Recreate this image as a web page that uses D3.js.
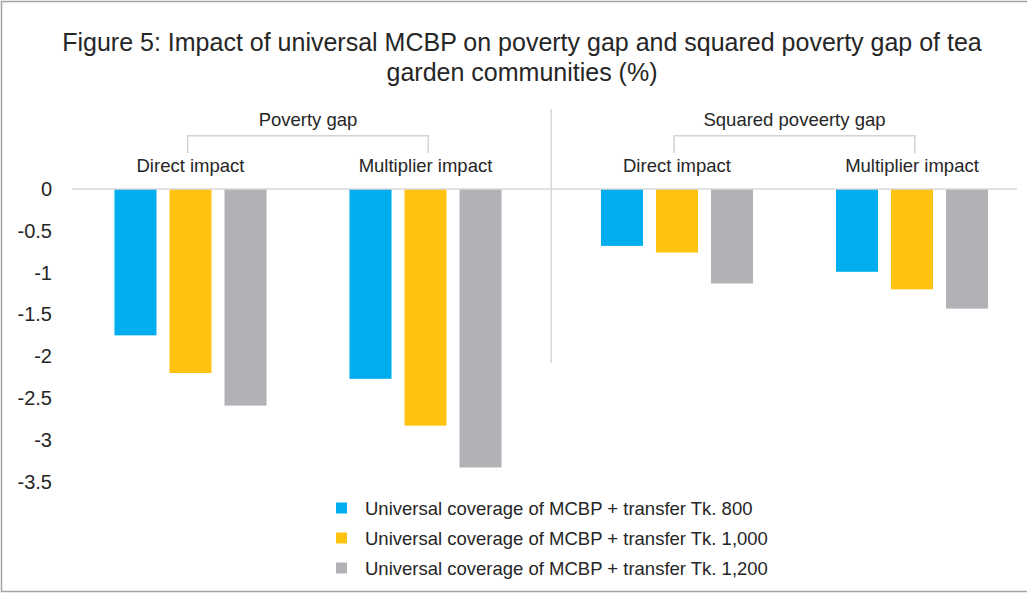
<!DOCTYPE html>
<html>
<head>
<meta charset="utf-8">
<script src="https://cdn.jsdelivr.net/npm/d3@7"></script>
<style>
  html, body { margin: 0; padding: 0; background: #fff; }
  svg { display: block; font-family: "Liberation Sans", Arial, sans-serif; }
</style>
</head>
<body>
<svg id="chart" width="1027" height="593"></svg>
<script>
// Category structure
const groups = ["Poverty gap", "Squared poveerty gap"];
const impacts = ["Direct impact", "Multiplier impact"];

// Series (one value per group/impact pair, in order)
const seriesNames = [
  "Universal coverage of MCBP + transfer Tk. 800",
  "Universal coverage of MCBP + transfer Tk. 1,000",
  "Universal coverage of MCBP + transfer Tk. 1,200"
];
const values800  = [-1.75, -2.27, -0.68, -0.99];
const values1000 = [-2.20, -2.83, -0.76, -1.20];
const values1200 = [-2.59, -3.33, -1.13, -1.43];
const seriesColors = ["#00AEEF", "#FEC311", "#B1B2B5"];

// Value axis ticks
const yTicks = [0, -0.5, -1, -1.5, -2, -2.5, -3, -3.5];

const titleLines = [
  "Figure 5: Impact of universal MCBP on poverty gap and squared poverty gap of tea",
  "garden communities (%)"
];

const seriesValues = [values800, values1000, values1200];

const svg = d3.select("#chart");
const textColor = "#262626";

// Frame (left, top and bottom edges)
svg.append("path")
  .attr("d", "M1028,1.5 H1.5 V591.5 H1028")
  .attr("fill", "none").attr("stroke", "#a3a3a3").attr("stroke-width", 1.5);

// Title
svg.append("text")
  .attr("x", 522).attr("y", 51)
  .attr("text-anchor", "middle")
  .attr("font-size", 25)
  .attr("fill", textColor)
  .selectAll("tspan").data(titleLines).join("tspan")
  .attr("x", 522).attr("dy", (d, i) => i === 0 ? 0 : 30)
  .text(d => d);

// Scales
const y = d3.scaleLinear().domain([-3.5, 0]).range([481.7, 189]);

const xGroup = d3.scaleBand().domain(groups).range([64.75, 1037.75]).padding(0);
const xImpact = d3.scaleBand().domain(impacts).range([0, xGroup.bandwidth()])
  .paddingInner(0).paddingOuter(0.035);
const xSeries = d3.scaleBand().domain(d3.range(seriesNames.length)).range([0, xImpact.bandwidth()])
  .paddingInner(0.236).paddingOuter(0.754);

// Flattened bar records
const bars = [];
groups.forEach((g, gi) => {
  impacts.forEach((c, ci) => {
    const idx = gi * impacts.length + ci;
    seriesValues.forEach((vals, si) => {
      bars.push({ group: g, impact: c, series: si, value: vals[idx] });
    });
  });
});

// Y axis labels
const yAxis = d3.axisLeft(y)
  .tickValues(yTicks)
  .tickSize(0)
  .tickPadding(0)
  .tickFormat(d => d === 0 ? "0" : String(d));

const yAxisG = svg.append("g")
  .attr("transform", "translate(52,0)")
  .call(yAxis);
yAxisG.select(".domain").remove();
yAxisG.selectAll("text")
  .attr("font-size", 20)
  .attr("font-family", "Liberation Sans, Arial, sans-serif")
  .attr("fill", textColor);

// Bars
svg.append("g").selectAll("rect").data(bars).join("rect")
  .attr("x", d => xGroup(d.group) + xImpact(d.impact) + xSeries(d.series))
  .attr("y", d => y(0))
  .attr("width", xSeries.bandwidth())
  .attr("height", d => y(d.value) - y(0))
  .attr("fill", d => seriesColors[d.series]);

// Zero line
svg.append("line")
  .attr("x1", 72).attr("x2", 1017)
  .attr("y1", y(0)).attr("y2", y(0))
  .attr("stroke", "#d9d9d9").attr("stroke-width", 1.5);

// Separator between groups
svg.append("line")
  .attr("x1", xGroup(groups[1])).attr("x2", xGroup(groups[1]))
  .attr("y1", 109).attr("y2", 363)
  .attr("stroke", "#d9d9d9").attr("stroke-width", 1.5);

// Impact labels
const impactLabels = [];
groups.forEach(g => impacts.forEach(c => impactLabels.push({ group: g, impact: c })));
svg.append("g").selectAll("text").data(impactLabels).join("text")
  .attr("x", d => xGroup(d.group) + xImpact(d.impact) + xImpact.bandwidth() / 2)
  .attr("y", 172)
  .attr("text-anchor", "middle")
  .attr("font-size", 18.5)
  .attr("fill", textColor)
  .text(d => d.impact);

// Group labels with brackets
const groupG = svg.append("g").selectAll("g").data(groups).join("g");
groupG.append("text")
  .attr("x", d => xGroup(d) + xGroup.bandwidth() / 2)
  .attr("y", 126)
  .attr("text-anchor", "middle")
  .attr("font-size", 18.5)
  .attr("fill", textColor)
  .text(d => d);
groupG.append("path")
  .attr("d", d => {
    const c = xGroup(d) + xGroup.bandwidth() / 2;
    return `M${c - 120.3},153 V135.8 H${c + 120.3} V153`;
  })
  .attr("fill", "none")
  .attr("stroke", "#d4d4d4")
  .attr("stroke-width", 1.5);

// Legend
const legend = svg.append("g").selectAll("g").data(seriesNames).join("g")
  .attr("transform", (d, i) => `translate(336,${508 + i * 30})`);
legend.append("rect")
  .attr("x", 0).attr("y", -5.5)
  .attr("width", 11).attr("height", 11)
  .attr("fill", (d, i) => seriesColors[i]);
legend.append("text")
  .attr("x", 29).attr("y", 6.5)
  .attr("font-size", 18.5)
  .attr("fill", textColor)
  .text(d => d);
</script>
</body>
</html>
